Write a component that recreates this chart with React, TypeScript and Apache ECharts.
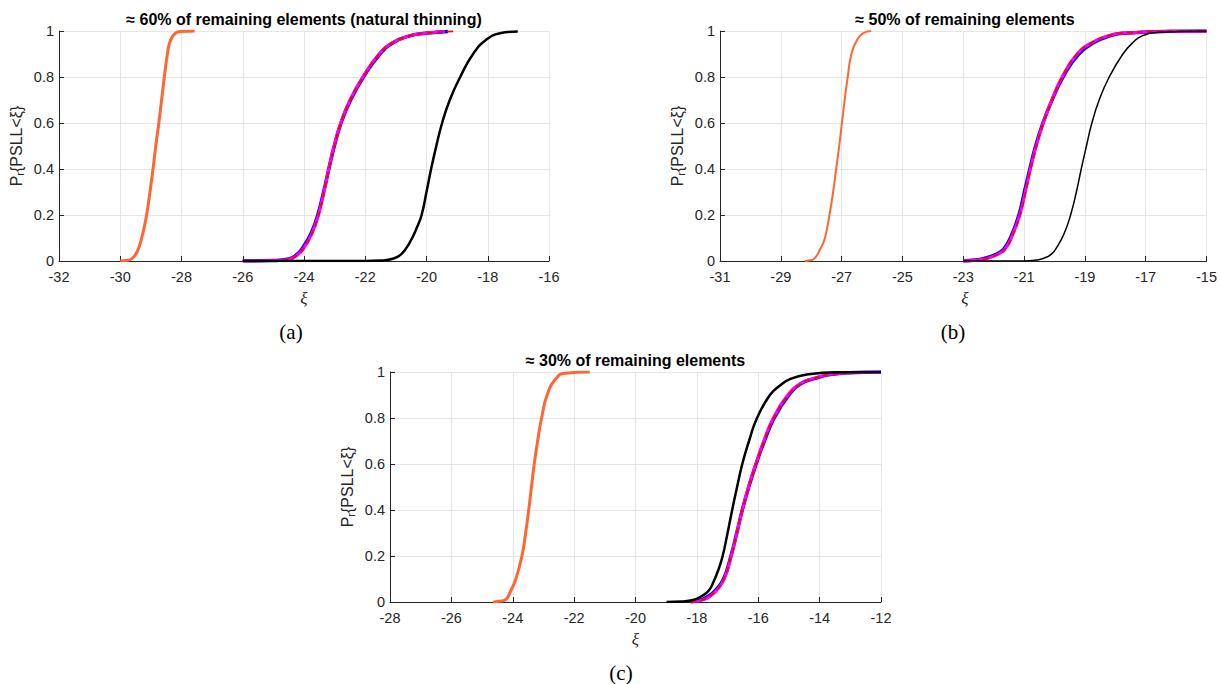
import { useEffect, useRef } from "react";
import * as echarts from "echarts";

// Empirical CDF curves of the peak side-lobe level, as [xi, P] pairs.

// (a) ≈ 60% of remaining elements (natural thinning)
const xRangeA = [-32, -16];
const orangeA = [[-30, 0], [-29.8, 0.002], [-29.62, 0.01], [-29.45, 0.04], [-29.3, 0.1], [-29.14, 0.2], [-29.03, 0.3], [-28.93, 0.4], [-28.84, 0.5], [-28.74, 0.6], [-28.65, 0.7], [-28.56, 0.8], [-28.46, 0.9], [-28.36, 0.96], [-28.2, 0.99], [-28.0, 0.998], [-27.57, 1]];
const blueA = [[-26, 0], [-25, 0.002], [-24.5, 0.009], [-24.22, 0.03], [-24.03, 0.06], [-23.77, 0.12], [-23.55, 0.2], [-23.36, 0.3], [-23.19, 0.4], [-23.01, 0.5], [-22.79, 0.6], [-22.48, 0.7], [-22.06, 0.8], [-21.52, 0.9], [-21.08, 0.95], [-20.52, 0.98], [-20.03, 0.99], [-19.3, 0.998]];
const magentaA = [[-26, 0], [-25, 0.002], [-24.5, 0.007], [-24.18, 0.03], [-23.99, 0.06], [-23.74, 0.12], [-23.53, 0.2], [-23.35, 0.3], [-23.19, 0.4], [-23.02, 0.5], [-22.8, 0.6], [-22.5, 0.7], [-22.08, 0.8], [-21.55, 0.9], [-21.1, 0.95], [-20.53, 0.98], [-20.06, 0.99], [-19.4, 0.998]];
const redA = [[-26, 0], [-25, 0.002], [-24.5, 0.007], [-24.17, 0.03], [-23.98, 0.06], [-23.73, 0.12], [-23.52, 0.2], [-23.34, 0.3], [-23.18, 0.4], [-23.01, 0.5], [-22.8, 0.6], [-22.49, 0.7], [-22.07, 0.8], [-21.54, 0.9], [-21.1, 0.95], [-20.52, 0.98], [-20.05, 0.99], [-19.0, 0.999]];
const blackA = [[-26, 0], [-22, 0], [-21.5, 0.002], [-21.1, 0.01], [-20.82, 0.03], [-20.55, 0.08], [-20.3, 0.15], [-20.16, 0.2], [-20.0, 0.3], [-19.85, 0.4], [-19.68, 0.5], [-19.49, 0.6], [-19.24, 0.7], [-18.9, 0.8], [-18.48, 0.9], [-18.07, 0.96], [-17.6, 0.99], [-17.02, 0.998]];

// (b) ≈ 50% of remaining elements
const xRangeB = [-31, -15];
const xTicksB = [-31, -29, -27, -25, -23, -21, -19, -17, -15];
const orangeB = [[-28.21, 0], [-28.05, 0.003], [-27.9, 0.01], [-27.71, 0.05], [-27.55, 0.1], [-27.4, 0.2], [-27.28, 0.3], [-27.18, 0.4], [-27.08, 0.5], [-26.99, 0.6], [-26.9, 0.7], [-26.8, 0.8], [-26.68, 0.9], [-26.5, 0.96], [-26.3, 0.99], [-26.03, 1]];
const blueB = [[-23, 0], [-22.6, 0.004], [-22.3, 0.012], [-21.96, 0.027], [-21.67, 0.052], [-21.42, 0.11], [-21.17, 0.2], [-20.99, 0.3], [-20.81, 0.4], [-20.62, 0.5], [-20.38, 0.6], [-20.08, 0.7], [-19.72, 0.8], [-19.2, 0.9], [-18.7, 0.95], [-18.15, 0.98], [-17.75, 0.99], [-16.2, 0.999], [-15, 1]];
const magentaB = [[-23, 0], [-22.6, 0.003], [-22.26, 0.01], [-21.93, 0.025], [-21.64, 0.05], [-21.39, 0.11], [-21.14, 0.2], [-20.96, 0.3], [-20.79, 0.4], [-20.6, 0.5], [-20.37, 0.6], [-20.09, 0.7], [-19.75, 0.8], [-19.26, 0.9], [-18.77, 0.95], [-18.22, 0.98], [-17.82, 0.99], [-16.2, 0.999], [-15, 1]];
const redB = [[-23, 0], [-22.6, 0.003], [-22.25, 0.01], [-21.92, 0.025], [-21.63, 0.05], [-21.38, 0.11], [-21.13, 0.2], [-20.95, 0.3], [-20.78, 0.4], [-20.59, 0.5], [-20.36, 0.6], [-20.08, 0.7], [-19.75, 0.8], [-19.26, 0.9], [-18.77, 0.95], [-18.22, 0.98], [-17.82, 0.99], [-16.2, 0.999], [-15, 1]];
const blackB = [[-23, 0], [-21, 0], [-20.6, 0.004], [-20.35, 0.012], [-20.1, 0.03], [-19.92, 0.06], [-19.68, 0.12], [-19.47, 0.2], [-19.28, 0.3], [-19.12, 0.4], [-18.95, 0.5], [-18.77, 0.6], [-18.53, 0.7], [-18.2, 0.8], [-17.75, 0.9], [-17.42, 0.95], [-17.1, 0.98], [-16.5, 0.995], [-15, 1]];

// (c) ≈ 30% of remaining elements
const xRangeC = [-28, -12];
const orangeC = [[-24.64, 0], [-24.45, 0.003], [-24.24, 0.01], [-24.06, 0.05], [-23.9, 0.1], [-23.7, 0.2], [-23.58, 0.3], [-23.48, 0.4], [-23.39, 0.5], [-23.3, 0.6], [-23.19, 0.7], [-23.06, 0.8], [-22.88, 0.9], [-22.6, 0.97], [-22.3, 0.995], [-21.49, 1]];
const blueC = [[-18.21, 0], [-18.0, 0.005], [-17.81, 0.012], [-17.6, 0.027], [-17.39, 0.052], [-17.13, 0.1], [-16.89, 0.2], [-16.7, 0.3], [-16.52, 0.4], [-16.31, 0.5], [-16.07, 0.6], [-15.8, 0.7], [-15.48, 0.8], [-15.0, 0.9], [-14.6, 0.95], [-14.2, 0.97], [-13.6, 0.99], [-12.54, 0.999], [-12, 1]];
const magentaC = [[-18.21, 0], [-18.0, 0.004], [-17.78, 0.01], [-17.57, 0.025], [-17.36, 0.05], [-17.11, 0.1], [-16.88, 0.2], [-16.7, 0.3], [-16.52, 0.4], [-16.32, 0.5], [-16.08, 0.6], [-15.82, 0.7], [-15.51, 0.8], [-15.04, 0.9], [-14.62, 0.95], [-14.25, 0.97], [-13.65, 0.99], [-12.54, 0.999], [-12, 1]];
const redC = [[-18.21, 0], [-18.0, 0.004], [-17.79, 0.01], [-17.58, 0.025], [-17.37, 0.05], [-17.12, 0.1], [-16.88, 0.2], [-16.7, 0.3], [-16.52, 0.4], [-16.31, 0.5], [-16.07, 0.6], [-15.81, 0.7], [-15.5, 0.8], [-15.02, 0.9], [-14.6, 0.95], [-14.23, 0.97], [-13.63, 0.99], [-12.54, 0.999], [-12, 1]];
const blackC = [[-18.99, 0], [-18.5, 0.002], [-18.09, 0.01], [-17.85, 0.025], [-17.61, 0.05], [-17.45, 0.09], [-17.3, 0.14], [-17.16, 0.2], [-17.0, 0.3], [-16.85, 0.4], [-16.69, 0.5], [-16.52, 0.6], [-16.3, 0.7], [-16.04, 0.8], [-15.62, 0.9], [-15.3, 0.94], [-14.95, 0.97], [-14.35, 0.99], [-13.39, 0.999], [-12, 1]];

const titles = [
  "≈ 60% of remaining elements (natural thinning)",
  "≈ 50% of remaining elements",
  "≈ 30% of remaining elements",
];
const captions = ["(a)", "(b)", "(c)"];
const yTicks = [0, 0.2, 0.4, 0.6, 0.8, 1];

const SANS = "'Liberation Sans', Arial, Helvetica, sans-serif";
const SERIF = "'Liberation Serif', 'Times New Roman', serif";
const AXIS = "#262626";
const GRIDC = "#e6e6e6";

const panels = [
  { grid: { left: 59, top: 31, width: 490, height: 230 }, range: xRangeA, ticks: null as number[] | null, curves: [orangeA, blueA, magentaA, redA, blackA], orangeW: 3, blackW: 2.5, captionX: 291, captionY: 332 },
  { grid: { left: 720, top: 31, width: 490, height: 230 }, range: xRangeB, ticks: xTicksB, curves: [orangeB, blueB, magentaB, redB, blackB], orangeW: 2, blackW: 1.5, captionX: 953, captionY: 332 },
  { grid: { left: 390, top: 372, width: 491, height: 230 }, range: xRangeC, ticks: null as number[] | null, curves: [orangeC, blueC, magentaC, redC, blackC], orangeW: 3, blackW: 2.5, captionX: 621, captionY: 673 },
];

function buildOption() {
  const grid: any[] = [];
  const xAxis: any[] = [];
  const yAxis: any[] = [];
  const series: any[] = [];
  const graphic: any[] = [];

  panels.forEach((p, i) => {
    grid.push(p.grid);
    const tickLine = { lineStyle: { color: AXIS, width: 1 } };
    const xa: any = {
      type: "value",
      gridIndex: i,
      min: p.range[0],
      max: p.range[1],
      axisLine: { show: true, onZero: false, ...tickLine },
      axisTick: { show: true, inside: true, length: 5, ...tickLine },
      axisLabel: { color: AXIS, fontSize: 14.5, fontFamily: SANS, margin: 8, hideOverlap: false },
      splitLine: { show: true, lineStyle: { color: GRIDC, width: 1 } },
    };
    if (p.ticks) {
      xa.axisTick.customValues = p.ticks;
      xa.axisLabel.customValues = p.ticks;
    } else {
      xa.interval = 2;
    }
    xAxis.push(xa);
    yAxis.push({
      type: "value",
      gridIndex: i,
      min: yTicks[0],
      max: yTicks[yTicks.length - 1],
      interval: 0.2,
      axisLine: { show: true, onZero: false, ...tickLine },
      axisTick: { show: true, inside: true, length: 5, ...tickLine },
      axisLabel: { color: AXIS, fontSize: 14.5, fontFamily: SANS, margin: 5 },
      splitLine: { show: true, lineStyle: { color: GRIDC, width: 1 } },
    });

    const [orange, blue, magenta, red, black] = p.curves;
    const base = { type: "line", xAxisIndex: i, yAxisIndex: i, symbol: "none", showSymbol: false, smooth: 0.5, silent: true };
    series.push({ ...base, name: "orange" + i, data: orange, lineStyle: { color: "#ff6633", width: p.orangeW }, z: 2 });
    series.push({ ...base, name: "blue" + i, data: blue, lineStyle: { color: "#0000ff", width: 3.5 }, z: 3 });
    series.push({ ...base, name: "magenta" + i, data: magenta, lineStyle: { color: "#ff00ff", width: 3 }, z: 4 });
    series.push({ ...base, name: "red" + i, data: red, lineStyle: { color: "#ff0000", width: 1.8, type: [6, 4] }, z: 5 });
    series.push({ ...base, name: "black" + i, data: black, lineStyle: { color: "#000000", width: p.blackW }, z: 6 });

    const g = p.grid;
    const cx = g.left + g.width / 2;
    const cy = g.top + g.height / 2;
    // panel title
    graphic.push({
      type: "text",
      x: cx,
      y: g.top - 12,
      style: { text: titles[i], font: `bold 16px ${SANS}`, fill: "#000", align: "center", verticalAlign: "middle" },
    });
    // x-axis name
    graphic.push({
      type: "text",
      x: cx,
      y: g.top + g.height + 37,
      style: { text: "ξ", font: `italic 17px ${SERIF}`, fill: AXIS, align: "center", verticalAlign: "middle" },
    });
    // y-axis name with subscript r
    graphic.push({
      type: "text",
      x: g.left - 43,
      y: cy,
      rotation: Math.PI / 2,
      style: {
        text: "{a|P}{s|r}{a|{PSLL<ξ}}",
        fontSize: 16,
        fontFamily: SANS,
        fill: AXIS,
        align: "center",
        verticalAlign: "middle",
        rich: {
          a: { fontSize: 16, fontFamily: SANS, fill: AXIS, lineHeight: 18, verticalAlign: "middle" },
          s: { fontSize: 11, fontFamily: SANS, fill: AXIS, lineHeight: 18, verticalAlign: "bottom", padding: [9, 0, 0, 0] },
        },
      },
    });
    // panel caption
    graphic.push({
      type: "text",
      x: p.captionX,
      y: p.captionY,
      style: { text: captions[i], font: `21px ${SERIF}`, fill: "#000", align: "center", verticalAlign: "middle" },
    });
  });

  return { animation: false, backgroundColor: "#ffffff", grid, xAxis, yAxis, series, graphic };
}

export default function App() {
  const ref = useRef<HTMLDivElement>(null);
  useEffect(() => {
    document.body.style.margin = "0";
    if (!ref.current) return;
    const chart = echarts.init(ref.current, undefined, { renderer: "svg" });
    chart.setOption(buildOption() as any);
    return () => chart.dispose();
  }, []);
  return <div ref={ref} style={{ width: 1220, height: 684 }} />;
}
